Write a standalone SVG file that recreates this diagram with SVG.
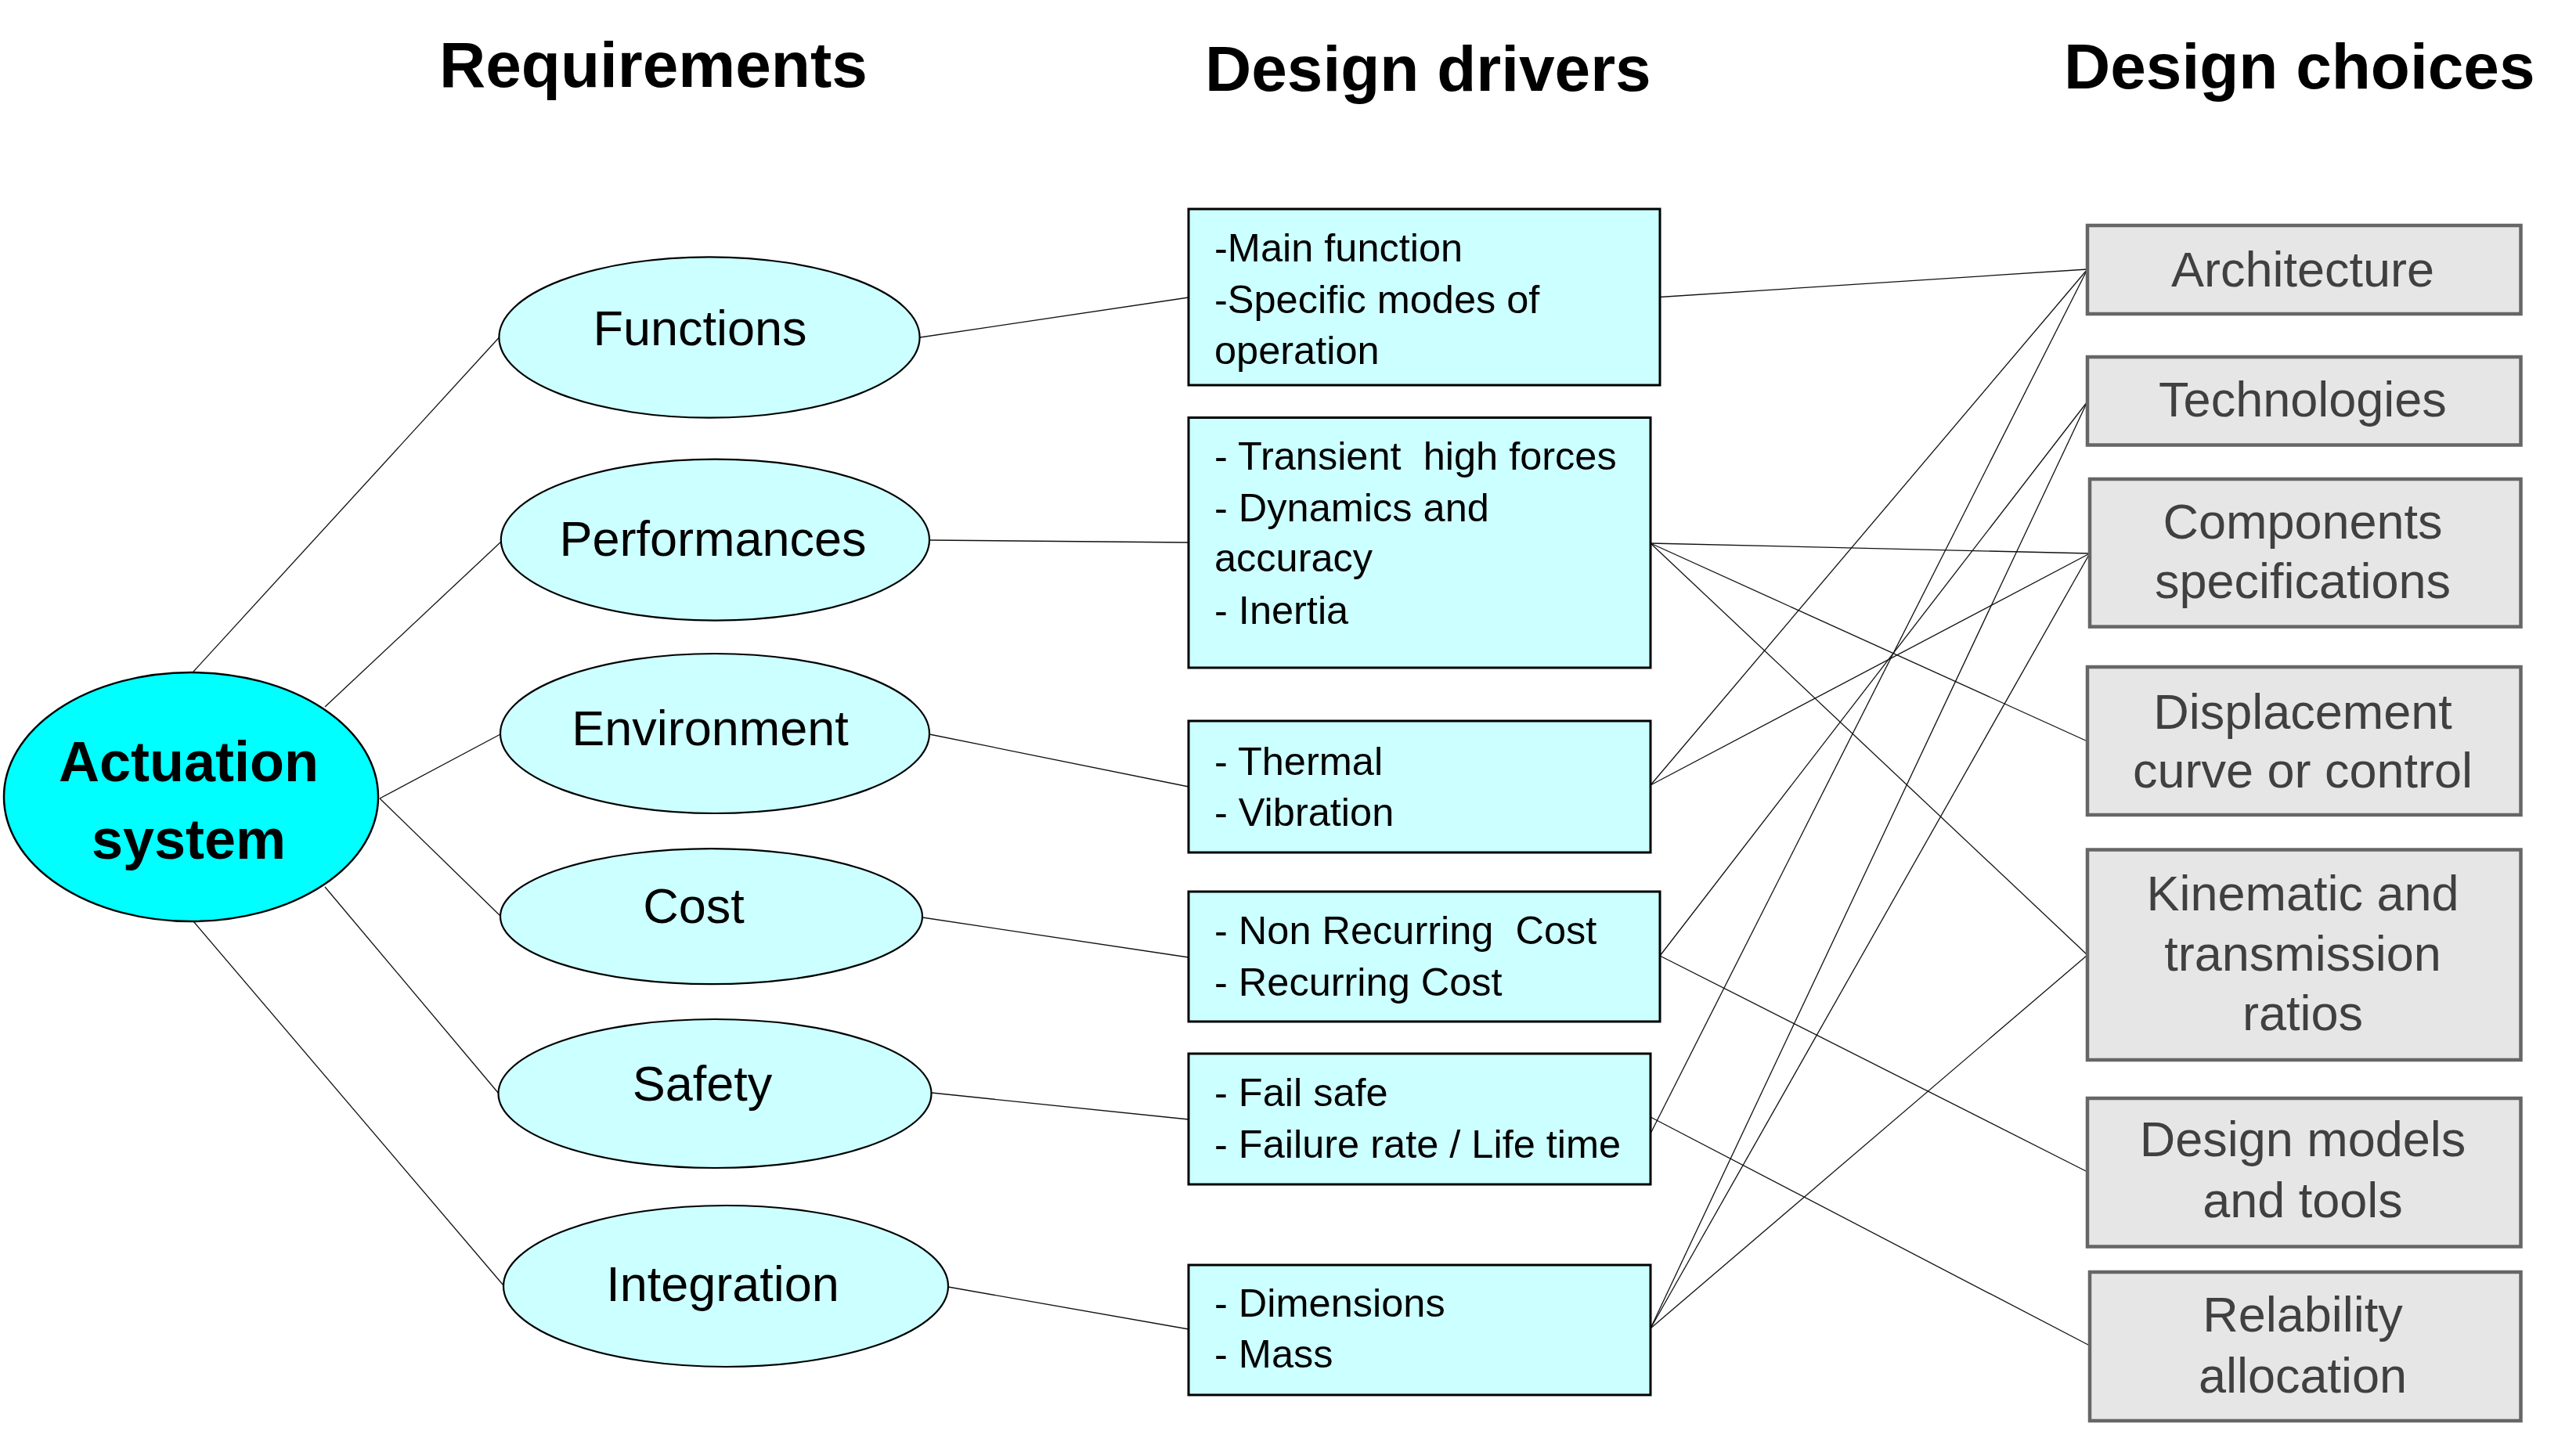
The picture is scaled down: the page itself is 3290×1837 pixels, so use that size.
<svg xmlns="http://www.w3.org/2000/svg" width="3290" height="1837" viewBox="0 0 3290 1837">
<style>
.title{font-family:"Liberation Sans",Arial,sans-serif;font-weight:bold;font-size:82px;fill:#000}
.req{fill:#ccffff;stroke:#000;stroke-width:2.2}
.reqt{font-family:"Liberation Sans",Arial,sans-serif;font-size:63px;fill:#000;text-anchor:middle}
.root{fill:#00ffff;stroke:#000;stroke-width:2.5}
.roott{font-family:"Liberation Sans",Arial,sans-serif;font-weight:bold;font-size:72px;fill:#000;text-anchor:middle}
.drv{fill:#ccffff;stroke:#000;stroke-width:3}
.drvt{font-family:"Liberation Sans",Arial,sans-serif;font-size:50.5px;fill:#000;white-space:pre}
.cho{fill:#e6e6e6;stroke:#666;stroke-width:4.5}
.chot{font-family:"Liberation Sans",Arial,sans-serif;font-size:63px;fill:#404040;text-anchor:middle}
.conn line{stroke:#111;stroke-width:1.3;fill:none}
</style>
<rect width="3290" height="1837" fill="#fff"/>
<g id="titles">
<text class="title" x="561" y="111">Requirements</text>
<text class="title" x="1539" y="116">Design drivers</text>
<text class="title" x="2636" y="113">Design choices</text>
</g>
<g id="connectors" class="conn">
<line x1="247" y1="858" x2="637.5" y2="431"/>
<line x1="415" y1="903" x2="640" y2="692"/>
<line x1="485" y1="1020" x2="639" y2="938"/>
<line x1="485" y1="1020" x2="639" y2="1170"/>
<line x1="415" y1="1133" x2="637" y2="1397"/>
<line x1="247" y1="1177" x2="643" y2="1642"/>
<line x1="1175" y1="431" x2="1518" y2="380"/>
<line x1="1187" y1="690" x2="1518" y2="693"/>
<line x1="1187" y1="938" x2="1518" y2="1005"/>
<line x1="1178" y1="1172" x2="1518" y2="1223"/>
<line x1="1190" y1="1396" x2="1518" y2="1430"/>
<line x1="1211" y1="1644" x2="1518" y2="1698"/>
<line x1="2120" y1="379.5" x2="2666" y2="344"/>
<line x1="2108" y1="694" x2="2669" y2="707"/>
<line x1="2108" y1="694" x2="2666" y2="947"/>
<line x1="2108" y1="694" x2="2666" y2="1220"/>
<line x1="2108" y1="1003" x2="2666" y2="344"/>
<line x1="2108" y1="1003" x2="2669" y2="707"/>
<line x1="2120" y1="1221" x2="2666" y2="513"/>
<line x1="2120" y1="1221" x2="2666" y2="1497"/>
<line x1="2108" y1="1448" x2="2666" y2="344"/>
<line x1="2108" y1="1427" x2="2669" y2="1719"/>
<line x1="2108" y1="1697" x2="2666" y2="513"/>
<line x1="2108" y1="1697" x2="2669" y2="707"/>
<line x1="2108" y1="1697" x2="2666" y2="1220"/>
</g>
<g id="actuation-system">
<ellipse class="root" cx="244" cy="1018" rx="239" ry="159"/>
<text class="roott" x="241" y="998">Actuation</text>
<text class="roott" x="241" y="1097">system</text>
</g>
<g id="functions">
<ellipse class="req" cx="906" cy="431" rx="268.6" ry="102.7"/>
<text class="reqt" x="894" y="441">Functions</text>
</g>
<g id="performances">
<ellipse class="req" cx="913.4" cy="689.6" rx="273.6" ry="103"/>
<text class="reqt" x="910.5" y="709.5">Performances</text>
</g>
<g id="environment">
<ellipse class="req" cx="913" cy="937" rx="274" ry="102"/>
<text class="reqt" x="907" y="952">Environment</text>
</g>
<g id="cost">
<ellipse class="req" cx="908.5" cy="1170.7" rx="269.5" ry="86.5"/>
<text class="reqt" x="886" y="1179">Cost</text>
</g>
<g id="safety">
<ellipse class="req" cx="913" cy="1397" rx="276.5" ry="95"/>
<text class="reqt" x="897" y="1406">Safety</text>
</g>
<g id="integration">
<ellipse class="req" cx="927" cy="1643" rx="284" ry="103"/>
<text class="reqt" x="923" y="1662">Integration</text>
</g>
<g id="driver-functions">
<rect class="drv" x="1518" y="267" width="602" height="225"/>
<text class="drvt" x="1551" y="334">-Main function</text>
<text class="drvt" x="1551" y="399.5">-Specific modes of</text>
<text class="drvt" x="1551" y="464.6">operation</text>
</g>
<g id="driver-performances">
<rect class="drv" x="1518" y="533.5" width="590" height="319.5"/>
<text class="drvt" x="1551" y="599.5">- Transient  high forces</text>
<text class="drvt" x="1551" y="665.5">- Dynamics and</text>
<text class="drvt" x="1551" y="730">accuracy</text>
<text class="drvt" x="1551" y="796.8">- Inertia</text>
</g>
<g id="driver-environment">
<rect class="drv" x="1518" y="921" width="590" height="168"/>
<text class="drvt" x="1551" y="989.6">- Thermal</text>
<text class="drvt" x="1551" y="1055.4">- Vibration</text>
</g>
<g id="driver-cost">
<rect class="drv" x="1518" y="1139" width="602" height="166"/>
<text class="drvt" x="1551" y="1206">- Non Recurring  Cost</text>
<text class="drvt" x="1551" y="1271.7">- Recurring Cost</text>
</g>
<g id="driver-safety">
<rect class="drv" x="1518" y="1346" width="590" height="167"/>
<text class="drvt" x="1551" y="1412.7">- Fail safe</text>
<text class="drvt" x="1551" y="1478.5">- Failure rate / Life time</text>
</g>
<g id="driver-integration">
<rect class="drv" x="1518" y="1616" width="590" height="166"/>
<text class="drvt" x="1551" y="1681.6">- Dimensions</text>
<text class="drvt" x="1551" y="1747.4">- Mass</text>
</g>
<g id="choice-architecture">
<rect class="cho" x="2666" y="288" width="553.5" height="113"/>
<text class="chot" x="2941" y="366.4">Architecture</text>
</g>
<g id="choice-technologies">
<rect class="cho" x="2666" y="456" width="553.5" height="112.5"/>
<text class="chot" x="2941" y="532">Technologies</text>
</g>
<g id="choice-components">
<rect class="cho" x="2669" y="612" width="550.5" height="188.6"/>
<text class="chot" x="2941" y="688.4">Components</text>
<text class="chot" x="2941" y="764.4">specifications</text>
</g>
<g id="choice-displacement">
<rect class="cho" x="2666" y="852" width="553.5" height="189"/>
<text class="chot" x="2941" y="930.7">Displacement</text>
<text class="chot" x="2941" y="1005.7">curve or control</text>
</g>
<g id="choice-kinematic">
<rect class="cho" x="2666" y="1085.5" width="553.5" height="268.5"/>
<text class="chot" x="2941" y="1162.8">Kinematic and</text>
<text class="chot" x="2941" y="1240.2">transmission</text>
<text class="chot" x="2941" y="1316">ratios</text>
</g>
<g id="choice-design-models">
<rect class="cho" x="2666" y="1403" width="553.5" height="189.5"/>
<text class="chot" x="2941" y="1476.7">Design models</text>
<text class="chot" x="2941" y="1555">and tools</text>
</g>
<g id="choice-reliability">
<rect class="cho" x="2669" y="1625" width="550.5" height="190"/>
<text class="chot" x="2941" y="1700.9">Relability</text>
<text class="chot" x="2941" y="1779.4">allocation</text>
</g>
</svg>
